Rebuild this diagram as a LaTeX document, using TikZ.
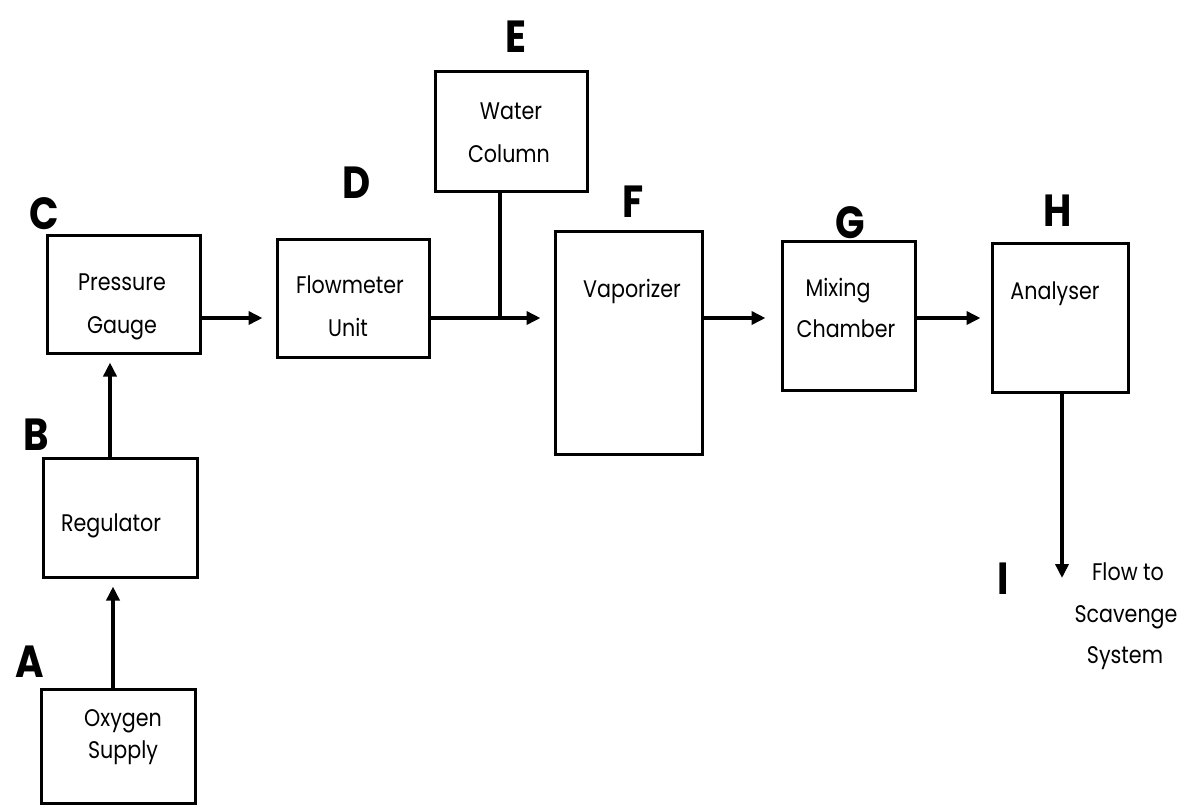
\documentclass[tikz,border=0pt]{standalone}
\usepackage{fontspec}
\setmainfont{Poppins}
\usetikzlibrary{arrows.meta,fit}
\tikzset{
  box/.style={draw, line width=3pt, inner sep=0pt, rectangle},
  txt/.style={anchor=base, inner sep=0pt, font=\fontsize{24}{27}\selectfont},
  tag/.style={anchor=base, inner sep=0pt, font=\fontsize{45}{45}\selectfont\bfseries},
  flow/.style={line width=4pt, -{Triangle[length=14pt,width=13pt]}},
  feed/.style={line width=4pt},
}
\newcommand{\narrow}[1]{\scalebox{0.86}[1]{#1}}
\begin{document}
\begin{tikzpicture}[x=1pt,y=-1pt]
\useasboundingbox (0,0) rectangle (1188,804);
\clip (0,0) rectangle (1188,804);
\fill[white] (0,0) rectangle (1188,804);

% process blocks
\node[box, fit={(41,689)(195,803)}] (A) {};
\node[box, fit={(43,458)(197,577)}] (B) {};
\node[box, fit={(47,235)(200,353)}] (C) {};
\node[box, fit={(277,239)(429,357)}] (D) {};
\node[box, fit={(435,71)(587,191)}] (E) {};
\node[box, fit={(555,231)(702,454)}] (F) {};
\node[box, fit={(782,241)(915,390)}] (G) {};
\node[box, fit={(992,243)(1128,392)}] (H) {};

% block texts
\node[txt] (tA1) at (123,726) {\narrow{Oxygen}};
\node[txt] (tA2) at (123,758) {\narrow{Supply}};
\node[txt] (tB) at (111,531) {\narrow{Regulator}};
\node[txt] (tC1) at (122,290) {\narrow{Pressure}};
\node[txt] (tC2) at (122,333) {\narrow{Gauge}};
\node[txt] (tD1) at (350,293) {\narrow{Flowmeter}};
\node[txt] (tD2) at (348,336) {\narrow{Unit}};
\node[txt] (tE1) at (511,119) {\narrow{Water}};
\node[txt] (tE2) at (509,162) {\narrow{Column}};
\node[txt] (tF) at (632,297) {\narrow{Vaporizer}};
\node[txt] (tG1) at (838,296) {\narrow{Mixing}};
\node[txt] (tG2) at (846,337) {\narrow{Chamber}};
\node[txt] (tH) at (1055,299) {\narrow{Analyser}};
\node[txt] (tI1) at (1128,580) {\narrow{Flow to}};
\node[txt] (tI2) at (1126,622) {\narrow{Scavenge}};
\node[txt] (tI3) at (1125,663) {\narrow{System}};

% letter tags
\node[tag] (lA) at (30,677) {\narrow{A}};
\node[tag] (lB) at (36,450) {\narrow{B}};
\node[tag] (lC) at (44,229) {\narrow{C}};
\node[tag] (lD) at (357,198) {\narrow{D}};
\node[tag] (lE) at (516,52) {\narrow{E}};
\node[tag] (lF) at (633,217) {\narrow{F}};
\node[tag] (lG) at (850,238) {\narrow{G}};
\node[tag] (lH) at (1058,226) {\narrow{H}};
\node[tag] (lI) at (1003,594) {\narrow{I}};

% connectors
\coordinate (j) at (500,318);
\coordinate (ab) at (113,0);
\coordinate (bc) at (110,0);
\coordinate (out) at (1062,578);
\draw[flow, shorten >=8pt] (A.north -| ab) -- (B.south -| ab);
\draw[flow, shorten >=8pt] (B.north -| bc) -- (C.south -| bc);
\draw[flow, shorten >=13pt] (C.east |- j) -- (D.west |- j);
\draw[feed] (E.south -| j) -- (j);
\draw[flow, shorten >=13pt] (D.east |- j) -- (F.west |- j);
\draw[flow, shorten >=15pt] (F.east |- j) -- (G.west |- j);
\draw[flow, shorten >=10pt] (G.east |- j) -- (H.west |- j);
\draw[flow] (H.south -| out) -- (out);
\end{tikzpicture}
\end{document}
